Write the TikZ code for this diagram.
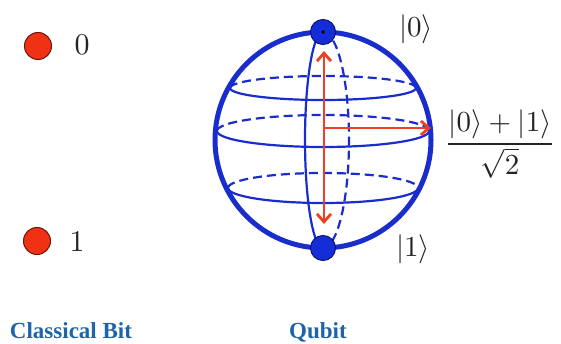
\documentclass[tikz,border=0pt]{standalone}
\usepackage{fontspec}
\newfontfamily\capfont{Liberation Serif}
\usetikzlibrary{arrows.meta}
\definecolor{sph}{RGB}{25,45,205}
\definecolor{polefill}{RGB}{20,45,215}
\definecolor{poleline}{RGB}{10,20,110}
\definecolor{arr}{RGB}{238,62,35}
\definecolor{bitfill}{RGB}{240,50,20}
\definecolor{bitline}{RGB}{110,20,10}
\definecolor{capcol}{RGB}{30,100,168}
\definecolor{txt}{RGB}{35,35,35}
\tikzset{
  outer/.style={draw=sph, line width=5pt},
  thinsolid/.style={draw=sph, line width=2.2pt},
  thindash/.style={draw=sph, line width=2.2pt, dash pattern=on 9pt off 5pt},
  redarrow/.style={draw=arr, line width=2.8pt, arrows={-Straight Barb[length=8pt,width=14pt]}},
  pole/.style={circle, fill=polefill, draw=poleline, line width=1pt, minimum size=25pt, inner sep=0pt},
  bitdot/.style={circle, fill=bitfill, draw=bitline, line width=1pt, minimum size=27pt, inner sep=0pt},
  lab/.style={text=txt, inner sep=0pt},
  captext/.style={text=capcol, font=\capfont\bfseries\fontsize{23}{27}\selectfont, inner sep=0pt}
}
\begin{document}
\begin{tikzpicture}[x=1pt,y=1pt]
\useasboundingbox (0,0) rectangle (561,343);
\coordinate (C) at (323,203);
% meridian
\draw[thinsolid] (323,311) arc[start angle=90,end angle=270,x radius=18pt,y radius=108pt];
\draw[thindash] (323,311) arc[start angle=90,end angle=-90,x radius=26pt,y radius=108pt];
% latitudes
\draw[thindash] (230,255) arc[start angle=180,end angle=0,x radius=93pt,y radius=12pt];
\draw[thinsolid] (230,255) arc[start angle=180,end angle=360,x radius=93pt,y radius=12pt];
\draw[thindash] (217,212) arc[start angle=180,end angle=0,x radius=106pt,y radius=16pt];
\draw[thinsolid] (217,212) arc[start angle=180,end angle=360,x radius=106pt,y radius=16pt];
\draw[thindash] (228,155) arc[start angle=180,end angle=0,x radius=95pt,y radius=15pt];
\draw[thinsolid] (228,155) arc[start angle=180,end angle=360,x radius=95pt,y radius=15pt];
% outline
\draw[outer] (C) circle[radius=108pt];
% arrows
\coordinate (atop) at (324,292);
\coordinate (abot) at (324,119);
\coordinate (amid) at (324,215);
\coordinate (aright) at (431,215);
\draw[redarrow, arrows={Straight Barb[length=8pt,width=14pt]-Straight Barb[length=8pt,width=14pt]}] (atop) -- (abot);
\draw[redarrow] (amid) -- (aright);
% poles
\node[pole] (p0) at (323,311) {};
\node[pole] (p1) at (323,95) {};
\fill[black] (p0.center) circle[radius=1.8pt];
% labels
\node[lab] (k0) at (416,314) {\scalebox{2.9}{$|0\rangle$}};
\node[lab] (k1) at (413,94) {\scalebox{2.9}{$|1\rangle$}};
\node[lab] (ks) at (500,199) {\scalebox{2.9}{$\displaystyle\frac{|0\rangle+|1\rangle}{\sqrt{2}}$}};
% classical bit
\node[bitdot] (b0) at (38,297) {};
\node[bitdot] (b1) at (37,102) {};
\node[lab] (l0) at (82,298) {\scalebox{3}{0}};
\node[lab] (l1) at (77,101) {\scalebox{3}{1}};
% captions
\node[captext, anchor=base] (cb) at (71,5) {Classical Bit};
\node[captext, anchor=base] (cq) at (318,5) {Qubit};
\end{tikzpicture}
\end{document}
